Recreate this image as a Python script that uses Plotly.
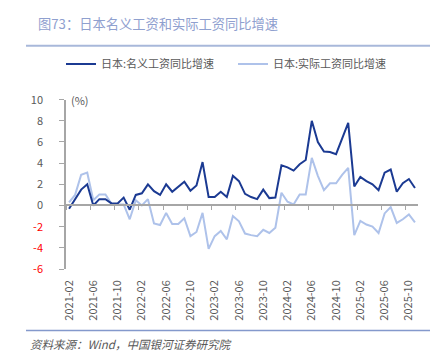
import pandas as pd
import plotly.graph_objects as go

months = pd.date_range("2021-02-01", periods=58, freq="MS").strftime("%Y-%m").tolist()

nominal = [-0.3, 0.6, 1.5, 2.0, 0.0, 0.6, 0.6, 0.2, 0.2, 0.75,
           -0.4, 1.0, 1.15, 2.0, 1.35, 1.0, 2.0, 1.3, 1.75, 2.25,
           1.4, 1.9, 4.1, 0.8, 0.8, 1.3, 0.8, 2.8, 2.3, 1.1,
           0.8, 0.6, 1.5, 0.7, 0.75, 3.8, 3.6, 3.3, 3.9, 4.3,
           8.0, 6.0, 5.1, 5.05, 4.85, 6.4, 7.8, 1.8, 2.7, 2.3,
           2.0, 1.45, 3.1, 3.4, 1.3, 2.1, 2.5, 1.65]

real = [0.3, 1.0, 2.9, 3.1, 0.5, 1.05, 1.05, 0.15, 0.1, 0.1,
        -1.3, 0.5, 0.0, 0.6, -1.7, -1.85, -0.7, -1.75, -1.75, -1.2,
        -2.9, -2.5, -0.7, -4.1, -2.9, -2.4, -3.2, -1.0, -1.5, -2.65,
        -2.8, -2.9, -2.3, -2.6, -2.1, 1.2, 0.35, 0.1, 1.05, 1.05,
        4.5, 2.8, 1.45, 2.1, 2.1, 2.9, 3.55, -2.8, -1.45, -1.8,
        -2.0, -2.6, -0.75, -0.15, -1.65, -1.3, -0.85, -1.6]

tick_labels = ["2021-02", "2021-06", "2021-10", "2022-02", "2022-06", "2022-10",
               "2023-02", "2023-06", "2023-10", "2024-02", "2024-06", "2024-10",
               "2025-02", "2025-06", "2025-10"]

y_ticks = [10, 8, 6, 4, 2, 0, -2, -4, -6]

name_nominal = "日本:名义工资同比增速"
name_real = "日本:实际工资同比增速"
title_text = "图73：日本名义工资和实际工资同比增速"
source_text = "资料来源：Wind，中国银河证券研究院"

DARK = "#1B3A92"
LIGHT = "#AEC2EA"
GRAY = "#595959"
AXIS = "#A6A6A6"
FONT = "Noto Sans CJK SC, Noto Sans, sans-serif"

x_idx = list(range(len(months)))
tickvals = [months.index(t) for t in tick_labels]
boundary_ticks = [v - 0.5 for v in tickvals]
y_text = [f'<span style="color:#FF0000">{v}</span>' if v < 0 else str(v) for v in y_ticks]

fig = go.Figure()
fig.add_trace(go.Scatter(x=x_idx, y=real, mode="lines", name=name_real,
                         line=dict(color=LIGHT, width=2), legendrank=2))
fig.add_trace(go.Scatter(x=x_idx, y=nominal, mode="lines", name=name_nominal,
                         line=dict(color=DARK, width=2), legendrank=1))
# helper trace to render zero-line axis with boundary tick marks
fig.add_trace(go.Scatter(x=x_idx, y=nominal, mode="none", xaxis="x2", yaxis="y",
                         showlegend=False, hoverinfo="skip"))

xr = [-0.5, len(months) - 0.5]

fig.update_layout(
    width=438, height=357,
    margin=dict(l=58, r=28, t=85, b=96),
    paper_bgcolor="white", plot_bgcolor="white",
    font=dict(family=FONT, size=11, color=GRAY),
    title=dict(text=title_text, xref="container", yref="container",
               x=30 / 438, y=1 - 16 / 357, xanchor="left", yanchor="middle",
               font=dict(size=13.25, color="#8FA0CF", family=FONT)),
    showlegend=True,
    legend=dict(orientation="h", xref="container", yref="container",
                x=53 / 438, y=1 - 56 / 357, xanchor="left", yanchor="middle",
                entrywidth=127, entrywidthmode="pixels",
                font=dict(size=11, color=GRAY), bgcolor="rgba(0,0,0,0)"),
    xaxis=dict(range=xr, tickmode="array", tickvals=tickvals, ticktext=tick_labels,
               tickangle=-90, showline=False, showgrid=False, zeroline=False,
               ticks="", ticklabelstandoff=8,
               tickfont=dict(size=11, color=GRAY)),
    xaxis2=dict(range=xr, overlaying="x", anchor="free", position=6 / 16,
                tickmode="array", tickvals=boundary_ticks, ticks="outside",
                ticklen=4, tickcolor=AXIS, tickwidth=1, showline=True,
                linecolor=AXIS, linewidth=1.5, showticklabels=False,
                showgrid=False, zeroline=False),
    yaxis=dict(range=[-6, 10], tickmode="array", tickvals=y_ticks, ticktext=y_text,
               ticks="outside", ticklen=5, tickcolor=AXIS, showline=True,
               linecolor=AXIS, linewidth=1.5, showgrid=False, zeroline=False,
               ticklabelstandoff=14, tickfont=dict(size=11, color=GRAY)),
    shapes=[
        dict(type="line", xref="paper", yref="paper",
             x0=(18 - 58) / 352, x1=(438 - 58) / 352,
             y0=1 + (85 - 29) / 176, y1=1 + (85 - 29) / 176,
             line=dict(color="#A8B8DA", width=2)),
        dict(type="line", xref="paper", yref="paper",
             x0=(18 - 58) / 352, x1=(438 - 58) / 352,
             y0=(261 - 325) / 176, y1=(261 - 325) / 176,
             line=dict(color="#8499CC", width=1.5)),
    ],
    annotations=[
        dict(text="(%)", xref="paper", yref="paper", x=0, y=1, xshift=3,
             xanchor="left", yanchor="middle", showarrow=False,
             font=dict(size=11, color=GRAY)),
        dict(text="<i>" + source_text + "</i>", xref="paper", yref="paper",
             x=(20 - 58) / 352, y=(261 - 339) / 176, xanchor="left", yanchor="middle",
             showarrow=False, font=dict(size=11.5, color=GRAY)),
    ],
)

fig.write_html("out.html")
